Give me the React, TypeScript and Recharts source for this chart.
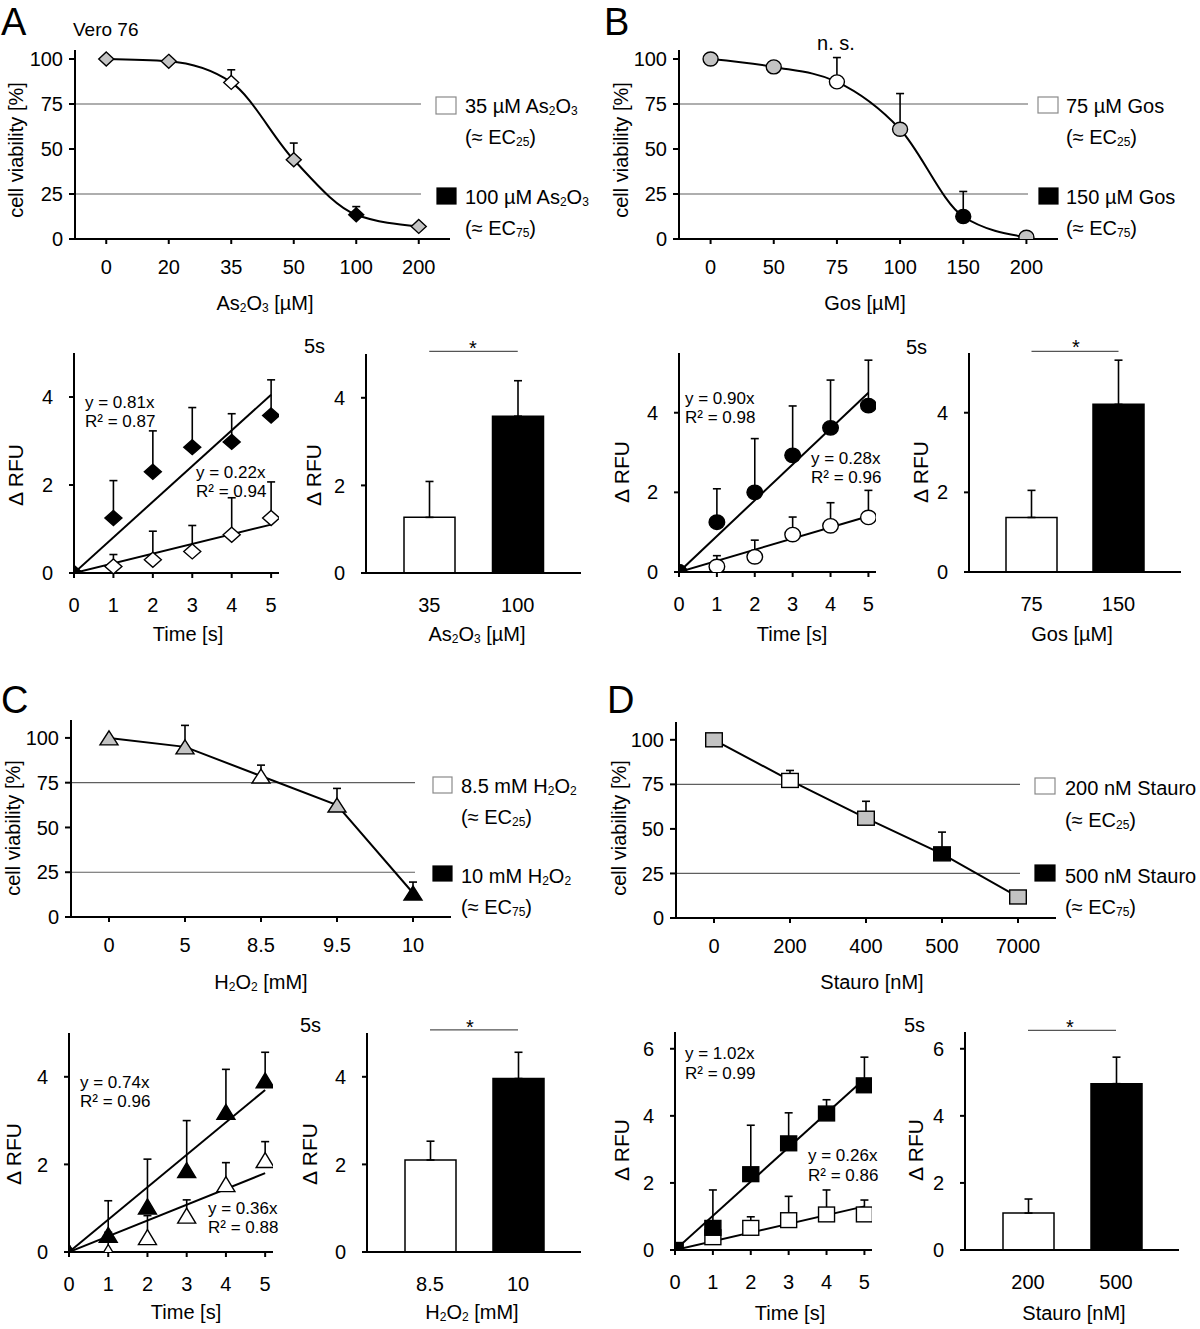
import React from "react";
import {
  Bar,
  Cell,
  ComposedChart,
  ErrorBar,
  Line,
  ReferenceLine,
  Scatter,
  XAxis,
  YAxis,
} from "recharts";

const FONT = '"Liberation Sans", Arial, Helvetica, sans-serif';
const FILL: Record<string, string> = { g: "#c3c3c3", w: "#ffffff", b: "#000000" };

// time axis shared by the kinetics plots
const timeSec = [0, 1, 2, 3, 4, 5];
const fitTime = [0, 5];
const viabilityTicks = [0, 25, 50, 75, 100];
const ecLevels = [75, 25];

// A: As2O3 (Vero 76)
const asDoses = ["0", "20", "35", "50", "100", "200"];
const asViability = [100, 98.7, 87, 44, 13.5, 7];
const asViabilityErr = [0, 0, 7, 9.3, 4.5, 0];
const asDoseFill = ["g", "g", "w", "g", "b", "g"];
const asLowRfu = [0, 0.15, 0.3, 0.49, 0.87, 1.25];
const asLowErr = [0, 0.27, 0.65, 0.59, 0.84, 0.82];
const asHighRfu = [0, 1.25, 2.3, 2.86, 2.98, 3.58];
const asHighErr = [0, 0.85, 0.93, 0.9, 0.64, 0.81];
const asLowFit = [0, 1.1];
const asHighFit = [0, 4.05];
const asBarDoses = ["35", "100"];
const asBarRfu = [1.27, 3.58];
const asBarErr = [0.82, 0.81];
const asSig = 5.06;

// B: Gos
const gosDoses = ["0", "50", "75", "100", "150", "200"];
const gosViability = [100, 95.6, 87.3, 61, 12.5, 1];
const gosViabilityErr = [0, 0, 13.5, 19.8, 13.9, 0];
const gosDoseFill = ["g", "g", "w", "g", "b", "g"];
const gosLowRfu = [0, 0.14, 0.38, 0.94, 1.16, 1.37];
const gosLowErr = [0, 0.27, 0.42, 0.44, 0.58, 0.68];
const gosHighRfu = [0, 1.25, 2.0, 2.93, 3.62, 4.18];
const gosHighErr = [0, 0.84, 1.35, 1.24, 1.2, 1.14];
const gosLowFit = [0, 1.4];
const gosHighFit = [0, 4.5];
const gosBarDoses = ["75", "150"];
const gosBarRfu = [1.37, 4.21];
const gosBarErr = [0.68, 1.11];
const gosSig = 5.54;

// C: H2O2
const h2o2Doses = ["0", "5", "8.5", "9.5", "10"];
const h2o2Viability = [100, 95, 78.7, 62.5, 13.4];
const h2o2ViabilityErr = [0, 12, 6.1, 9.3, 6.1];
const h2o2DoseFill = ["g", "g", "w", "g", "b"];
const h2o2LowRfu = [0, 0, 0.34, 0.83, 1.55, 2.1];
const h2o2LowErr = [0, 0.45, 0.49, 0.36, 0.49, 0.42];
const h2o2HighRfu = [0, 0.39, 1.04, 1.87, 3.2, 3.92];
const h2o2HighErr = [0, 0.78, 1.08, 1.13, 0.97, 0.64];
const h2o2LowFit = [0, 1.8];
const h2o2HighFit = [0, 3.7];
const h2o2BarDoses = ["8.5", "10"];
const h2o2BarRfu = [2.1, 3.96];
const h2o2BarErr = [0.43, 0.6];
const h2o2Sig = 5.07;

// D: staurosporine
const stauroDoses = ["0", "200", "400", "500", "7000"];
const stauroViability = [100, 77.2, 56, 36, 11.8];
const stauroViabilityErr = [0, 5.6, 9.5, 12.2, 0];
const stauroDoseFill = ["g", "w", "g", "b", "g"];
const stauroLowRfu = [0, 0.38, 0.66, 0.89, 1.06, 1.06];
const stauroLowErr = [0, 0.3, 0.33, 0.71, 0.73, 0.43];
const stauroHighRfu = [0, 0.66, 2.26, 3.18, 4.07, 4.91];
const stauroHighErr = [0, 1.13, 1.46, 0.91, 0.41, 0.84];
const stauroLowFit = [0, 1.3];
const stauroHighFit = [0, 5.1];
const stauroBarDoses = ["200", "500"];
const stauroBarRfu = [1.1, 4.96];
const stauroBarErr = [0.42, 0.79];
const stauroSig = 6.55;

const doseRows = (doses: string[], v: number[], e: number[], f: string[]) =>
  doses.map((c, i) => ({ c, v: v[i], e: e[i] ? [0, e[i]] : null, fill: FILL[f[i]] }));
const timeRows = (v: number[], e: number[]) =>
  timeSec.map((t, i) => ({ t, v: v[i], e: e[i] ? [0, e[i]] : null }));
const fitRows = (v: number[]) => fitTime.map((t, i) => ({ t, v: v[i] }));
const barRows = (doses: string[], v: number[], e: number[]) =>
  doses.map((c, i) => ({ c, v: v[i], e: [0, e[i]], fill: i === 0 ? FILL.w : FILL.b }));

type Box = { x0: number; x1: number; yTop: number; yBot: number };
type Shape = "diamond" | "circle" | "triangle" | "square";

const YW = 60;
const MT = 30;
const MR = 24;
const XH = 60;

const axisLine = { stroke: "#000", strokeWidth: 2 };
const tickStyle = { fill: "#000", fontSize: 20 };

const sizes: Record<string, Record<Shape, [number, number]>> = {
  top: { diamond: [7.5, 7], circle: [7.5, 7], triangle: [9, 7], square: [8.3, 7] },
  low: { diamond: [8.5, 7.5], circle: [7.8, 7.2], triangle: [9, 7.5], square: [8, 7.4] },
};

function Marker({ cx, cy, shape, fill, kind }: any) {
  if (cx == null || cy == null) return null;
  const [w, h] = sizes[kind][shape as Shape];
  const st = { fill, stroke: "#000", strokeWidth: 1.4 };
  if (shape === "circle") return <ellipse cx={cx} cy={cy} rx={w} ry={h} {...st} />;
  if (shape === "square") return <rect x={cx - w} y={cy - h} width={2 * w} height={2 * h} {...st} />;
  if (shape === "triangle")
    return <polygon points={`${cx},${cy - h} ${cx + w},${cy + h} ${cx - w},${cy + h}`} {...st} />;
  return <polygon points={`${cx},${cy - h} ${cx + w},${cy} ${cx},${cy + h} ${cx - w},${cy}`} {...st} />;
}

function Frame({ box, children }: { box: Box; children: React.ReactNode }) {
  return (
    <div style={{ position: "absolute", left: box.x0 - YW, top: box.yTop - MT }}>{children}</div>
  );
}
const dims = (box: Box) => ({
  width: box.x1 - box.x0 + YW + MR,
  height: box.yBot - box.yTop + MT + XH,
});

function ViabilityChart({ box, rows, yMax, shape, curve }: any) {
  const { width, height } = dims(box);
  const trim = Math.round((box.x1 - box.x0) / rows.length / 2) - 2;
  return (
    <Frame box={box}>
      <ComposedChart width={width} height={height} data={rows} margin={{ top: MT, right: MR, bottom: 0, left: 0 }}>
        <XAxis dataKey="c" type="category" scale="band" interval={0} height={XH} axisLine={axisLine}
          tickLine={axisLine} tickSize={5} tickMargin={16} tick={tickStyle} />
        <YAxis type="number" domain={[0, yMax]} ticks={viabilityTicks} allowDataOverflow width={YW}
          axisLine={axisLine} tickLine={axisLine} tickSize={6} tickMargin={6} tick={tickStyle} />
        {ecLevels.map((lv) => (
          <ReferenceLine key={lv} y={lv}
            shape={(p: any) => (
              <line x1={p.x1} y1={p.y1} x2={p.x2 - trim} y2={p.y2} stroke="#5f5f5f" strokeWidth={1.2} />
            )} />
        ))}
        <Line dataKey="v" type={curve} stroke="#000" strokeWidth={2} isAnimationActive={false} activeDot={false}
          dot={(p: any) => (
            <Marker key={`m${p.index}`} cx={p.cx} cy={p.cy} shape={shape} fill={p.payload.fill} kind="top" />
          )}>
          <ErrorBar dataKey="e" direction="y" width={4} stroke="#000" strokeWidth={1.6} />
        </Line>
      </ComposedChart>
    </Frame>
  );
}

function TimeChart({ box, yMax, yTicks, low, high, lowFit, highFit, shape }: any) {
  const { width, height } = dims(box);
  const pts = (fill: string) => (p: any) =>
    <Marker cx={p.cx} cy={p.cy} shape={shape} fill={fill} kind="low" />;
  return (
    <Frame box={box}>
      <ComposedChart width={width} height={height} margin={{ top: MT, right: MR, bottom: 0, left: 0 }}>
        <XAxis dataKey="t" type="number" domain={[0, 5.2]} ticks={timeSec} allowDataOverflow height={XH}
          axisLine={axisLine} tickLine={axisLine} tickSize={5} tickMargin={20} tick={tickStyle} />
        <YAxis type="number" domain={[0, yMax]} ticks={yTicks} allowDataOverflow width={YW}
          axisLine={axisLine} tickLine={axisLine} tickSize={5} tickMargin={16} tick={tickStyle} />
        <Line data={lowFit} dataKey="v" stroke="#000" strokeWidth={2} dot={false} activeDot={false} isAnimationActive={false} />
        <Line data={highFit} dataKey="v" stroke="#000" strokeWidth={2} dot={false} activeDot={false} isAnimationActive={false} />
        <Scatter data={low} dataKey="v" shape={pts(FILL.w)} isAnimationActive={false}>
          <ErrorBar dataKey="e" direction="y" width={4} stroke="#000" strokeWidth={1.6} />
        </Scatter>
        <Scatter data={high} dataKey="v" shape={pts(FILL.b)} isAnimationActive={false}>
          <ErrorBar dataKey="e" direction="y" width={4} stroke="#000" strokeWidth={1.6} />
        </Scatter>
      </ComposedChart>
    </Frame>
  );
}

function RfuBars({ box, rows, yMax, yTicks, sig }: any) {
  const { width, height } = dims(box);
  return (
    <Frame box={box}>
      <ComposedChart width={width} height={height} data={rows} margin={{ top: MT, right: MR, bottom: 0, left: 0 }}>
        <XAxis dataKey="c" type="category" interval={0} padding={{ left: 19, right: 19 }} height={XH}
          axisLine={axisLine} tickLine={false} tickSize={5} tickMargin={20} tick={tickStyle} />
        <YAxis type="number" domain={[0, yMax]} ticks={yTicks} allowDataOverflow width={YW}
          axisLine={axisLine} tickLine={axisLine} tickSize={5} tickMargin={16} tick={tickStyle} />
        <Bar dataKey="v" barSize={51} stroke="#000" strokeWidth={1.5} isAnimationActive={false}>
          {rows.map((r: any, i: number) => (
            <Cell key={i} fill={r.fill} />
          ))}
          <ErrorBar dataKey="e" direction="y" width={4} stroke="#000" strokeWidth={1.6} />
        </Bar>
        <ReferenceLine segment={[{ x: rows[0].c, y: sig }, { x: rows[1].c, y: sig }]} ifOverflow="visible"
          stroke="#555" strokeWidth={1.2} />
      </ComposedChart>
    </Frame>
  );
}

// overlay texts: parts in brackets are subscripts
type Part = string | [string];
function Rich({ parts, subSize }: { parts: Part[]; subSize: number }) {
  let inSub = false;
  return (
    <>
      {parts.map((p, i) => {
        const isSub = Array.isArray(p);
        const dy = isSub && !inSub ? 5 : !isSub && inSub ? -5 : 0;
        inSub = isSub;
        return (
          <tspan key={i} dy={dy || undefined} fontSize={isSub ? subSize : undefined}>
            {isSub ? p[0] : p}
          </tspan>
        );
      })}
    </>
  );
}

type Label = { x: number; y: number; parts: Part[]; size?: number; anchor?: string; rot?: boolean };
const as2o3: Part[] = ["As", ["2"], "O", ["3"]];
const h2o2: Part[] = ["H", ["2"], "O", ["2"]];
const ec25: Part[] = ["(≈ EC", ["25"], ")"];
const ec75: Part[] = ["(≈ EC", ["75"], ")"];

const labels: Label[] = [
  { x: 1, y: 22, parts: ["A"], size: 38 },
  { x: 604, y: 22, parts: ["B"], size: 38 },
  { x: 1, y: 700, parts: ["C"], size: 38 },
  { x: 607, y: 700, parts: ["D"], size: 38 },
  { x: 73, y: 29, parts: ["Vero 76"], size: 19 },
  { x: 836, y: 43, parts: ["n. s."], anchor: "middle" },
  // viability axis titles
  { x: 16, y: 150, parts: ["cell viability [%]"], rot: true },
  { x: 621, y: 150, parts: ["cell viability [%]"], rot: true },
  { x: 13, y: 828, parts: ["cell viability [%]"], rot: true },
  { x: 619, y: 828, parts: ["cell viability [%]"], rot: true },
  { x: 265, y: 303, parts: [...as2o3, " [µM]"], anchor: "middle" },
  { x: 865, y: 303, parts: ["Gos [µM]"], anchor: "middle" },
  { x: 261, y: 982, parts: [...h2o2, " [mM]"], anchor: "middle" },
  { x: 872, y: 982, parts: ["Stauro [nM]"], anchor: "middle" },
  // legends
  { x: 465, y: 106, parts: ["35 µM ", ...as2o3] },
  { x: 465, y: 137, parts: ec25 },
  { x: 465, y: 197, parts: ["100 µM ", ...as2o3] },
  { x: 465, y: 228, parts: ec75 },
  { x: 1066, y: 106, parts: ["75 µM Gos"] },
  { x: 1066, y: 137, parts: ec25 },
  { x: 1066, y: 197, parts: ["150 µM Gos"] },
  { x: 1066, y: 228, parts: ec75 },
  { x: 461, y: 786, parts: ["8.5 mM ", ...h2o2] },
  { x: 461, y: 817, parts: ec25 },
  { x: 461, y: 876, parts: ["10 mM ", ...h2o2] },
  { x: 461, y: 907, parts: ec75 },
  { x: 1065, y: 788, parts: ["200 nM Stauro"] },
  { x: 1065, y: 820, parts: ec25 },
  { x: 1065, y: 876, parts: ["500 nM Stauro"] },
  { x: 1065, y: 907, parts: ec75 },
  // kinetics titles
  { x: 15, y: 475, parts: ["Δ RFU"], rot: true, size: 21 },
  { x: 313, y: 475, parts: ["Δ RFU"], rot: true, size: 21 },
  { x: 621, y: 472, parts: ["Δ RFU"], rot: true, size: 21 },
  { x: 920, y: 472, parts: ["Δ RFU"], rot: true, size: 21 },
  { x: 13, y: 1154, parts: ["Δ RFU"], rot: true, size: 21 },
  { x: 309, y: 1154, parts: ["Δ RFU"], rot: true, size: 21 },
  { x: 621, y: 1150, parts: ["Δ RFU"], rot: true, size: 21 },
  { x: 915, y: 1150, parts: ["Δ RFU"], rot: true, size: 21 },
  { x: 188, y: 634, parts: ["Time [s]"], anchor: "middle" },
  { x: 477, y: 634, parts: [...as2o3, " [µM]"], anchor: "middle" },
  { x: 792, y: 634, parts: ["Time [s]"], anchor: "middle" },
  { x: 1072, y: 634, parts: ["Gos [µM]"], anchor: "middle" },
  { x: 186, y: 1312, parts: ["Time [s]"], anchor: "middle" },
  { x: 472, y: 1312, parts: [...h2o2, " [mM]"], anchor: "middle" },
  { x: 790, y: 1313, parts: ["Time [s]"], anchor: "middle" },
  { x: 1074, y: 1313, parts: ["Stauro [nM]"], anchor: "middle" },
  { x: 304, y: 346, parts: ["5s"] },
  { x: 906, y: 347, parts: ["5s"] },
  { x: 300, y: 1025, parts: ["5s"] },
  { x: 904, y: 1025, parts: ["5s"] },
  { x: 473, y: 348, parts: ["*"], anchor: "middle" },
  { x: 1076, y: 347, parts: ["*"], anchor: "middle" },
  { x: 470, y: 1027, parts: ["*"], anchor: "middle" },
  { x: 1070, y: 1027, parts: ["*"], anchor: "middle" },
  // fit equations
  { x: 85, y: 402, parts: ["y = 0.81x"], size: 17 },
  { x: 85, y: 421, parts: ["R² = 0.87"], size: 17 },
  { x: 196, y: 472, parts: ["y = 0.22x"], size: 17 },
  { x: 196, y: 491, parts: ["R² = 0.94"], size: 17 },
  { x: 685, y: 398, parts: ["y = 0.90x"], size: 17 },
  { x: 685, y: 417, parts: ["R² = 0.98"], size: 17 },
  { x: 811, y: 458, parts: ["y = 0.28x"], size: 17 },
  { x: 811, y: 477, parts: ["R² = 0.96"], size: 17 },
  { x: 80, y: 1082, parts: ["y = 0.74x"], size: 17 },
  { x: 80, y: 1101, parts: ["R² = 0.96"], size: 17 },
  { x: 208, y: 1208, parts: ["y = 0.36x"], size: 17 },
  { x: 208, y: 1227, parts: ["R² = 0.88"], size: 17 },
  { x: 685, y: 1053, parts: ["y = 1.02x"], size: 17 },
  { x: 685, y: 1073, parts: ["R² = 0.99"], size: 17 },
  { x: 808, y: 1155, parts: ["y = 0.26x"], size: 17 },
  { x: 808, y: 1175, parts: ["R² = 0.86"], size: 17 },
];

const legendBoxes = [
  { x: 436, y: 97, w: 20, h: 17, fill: FILL.w },
  { x: 437, y: 188, w: 19, h: 16, fill: FILL.b },
  { x: 1038, y: 97, w: 20, h: 16, fill: FILL.w },
  { x: 1039, y: 188, w: 19, h: 16, fill: FILL.b },
  { x: 433, y: 777, w: 19, h: 16, fill: FILL.w },
  { x: 433, y: 866, w: 19, h: 15, fill: FILL.b },
  { x: 1035, y: 778, w: 20, h: 16, fill: FILL.w },
  { x: 1035, y: 865, w: 20, h: 16, fill: FILL.b },
];

function Overlay() {
  return (
    <svg width={1200} height={1329} style={{ position: "absolute", left: 0, top: 0, pointerEvents: "none" }}>
      {legendBoxes.map((b, i) => (
        <rect key={i} x={b.x} y={b.y} width={b.w} height={b.h} fill={b.fill}
          stroke={b.fill === FILL.w ? "#8a8a8a" : "#000"} strokeWidth={1.2} />
      ))}
      {labels.map((l, i) => {
        const fs = l.size ?? 20;
        return (
          <text key={i} x={l.x} y={l.y} fontSize={fs} fill="#000" textAnchor={l.rot ? "middle" : l.anchor ?? "start"}
            dominantBaseline="central" transform={l.rot ? `rotate(-90 ${l.x} ${l.y})` : undefined}>
            <Rich parts={l.parts} subSize={Math.round(fs * 0.62)} />
          </text>
        );
      })}
    </svg>
  );
}

const box = (x0: number, x1: number, yTop: number, yBot: number): Box => ({ x0, x1, yTop, yBot });

export default function App() {
  return (
    <div style={{ position: "absolute", left: 0, top: 0, width: 1200, height: 1329, background: "#fff", fontFamily: FONT }}>
      <ViabilityChart box={box(75, 450, 50, 239)} rows={doseRows(asDoses, asViability, asViabilityErr, asDoseFill)}
        yMax={105} shape="diamond" curve="monotone" />
      <ViabilityChart box={box(679, 1058, 50, 239)} rows={doseRows(gosDoses, gosViability, gosViabilityErr, gosDoseFill)}
        yMax={105} shape="circle" curve="monotone" />
      <ViabilityChart box={box(71, 451, 720, 917)} rows={doseRows(h2o2Doses, h2o2Viability, h2o2ViabilityErr, h2o2DoseFill)}
        yMax={110} shape="triangle" curve="linear" />
      <ViabilityChart box={box(676, 1056, 722, 918)} rows={doseRows(stauroDoses, stauroViability, stauroViabilityErr, stauroDoseFill)}
        yMax={110} shape="square" curve="linear" />

      <TimeChart box={box(74, 279, 353, 573)} yMax={5} yTicks={[0, 2, 4]} shape="diamond"
        low={timeRows(asLowRfu, asLowErr)} high={timeRows(asHighRfu, asHighErr)}
        lowFit={fitRows(asLowFit)} highFit={fitRows(asHighFit)} />
      <TimeChart box={box(679, 876, 353, 572)} yMax={5.5} yTicks={[0, 2, 4]} shape="circle"
        low={timeRows(gosLowRfu, gosLowErr)} high={timeRows(gosHighRfu, gosHighErr)}
        lowFit={fitRows(gosLowFit)} highFit={fitRows(gosHighFit)} />
      <TimeChart box={box(69, 273, 1033, 1252)} yMax={5} yTicks={[0, 2, 4]} shape="triangle"
        low={timeRows(h2o2LowRfu, h2o2LowErr)} high={timeRows(h2o2HighRfu, h2o2HighErr)}
        lowFit={fitRows(h2o2LowFit)} highFit={fitRows(h2o2HighFit)} />
      <TimeChart box={box(675, 872, 1032, 1250)} yMax={6.5} yTicks={[0, 2, 4, 6]} shape="square"
        low={timeRows(stauroLowRfu, stauroLowErr)} high={timeRows(stauroHighRfu, stauroHighErr)}
        lowFit={fitRows(stauroLowFit)} highFit={fitRows(stauroHighFit)} />

      <RfuBars box={box(366, 581, 354, 573)} rows={barRows(asBarDoses, asBarRfu, asBarErr)} yMax={5} yTicks={[0, 2, 4]} sig={asSig} />
      <RfuBars box={box(969, 1181, 353, 572)} rows={barRows(gosBarDoses, gosBarRfu, gosBarErr)} yMax={5.5} yTicks={[0, 2, 4]} sig={gosSig} />
      <RfuBars box={box(367, 581, 1033, 1252)} rows={barRows(h2o2BarDoses, h2o2BarRfu, h2o2BarErr)} yMax={5} yTicks={[0, 2, 4]} sig={h2o2Sig} />
      <RfuBars box={box(965, 1179, 1032, 1250)} rows={barRows(stauroBarDoses, stauroBarRfu, stauroBarErr)} yMax={6.5} yTicks={[0, 2, 4, 6]} sig={stauroSig} />

      <Overlay />
    </div>
  );
}
